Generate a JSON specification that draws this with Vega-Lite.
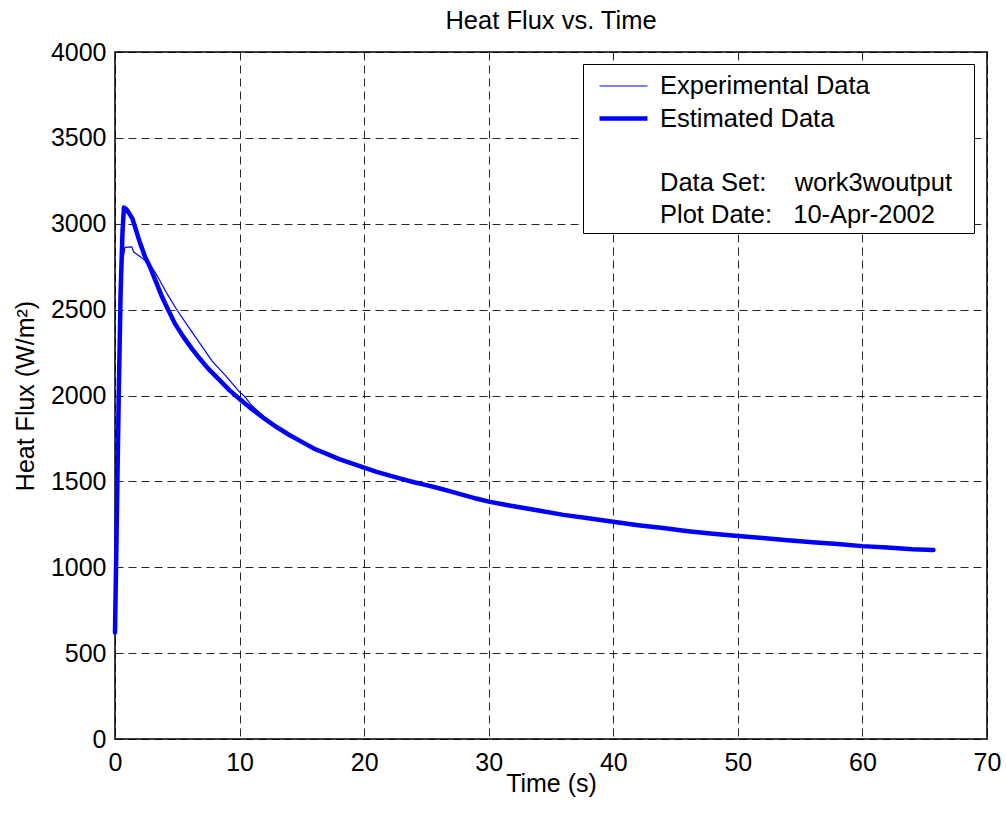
{
  "$schema": "https://vega.github.io/schema/vega-lite/v6.json",
  "width": 872,
  "height": 687,
  "autosize": {"type": "none"},
  "padding": {"left": 115, "top": 52, "right": 19, "bottom": 75},
  "background": "white",
  "config": {
    "font": "Liberation Sans",
    "view": {"stroke": "black", "strokeWidth": 1.5},
    "axis": {
      "labelFont": "Liberation Sans",
      "labelFontSize": 25,
      "labelColor": "black",
      "labelFlush": false,
      "labelOverlap": false,
      "titleFont": "Liberation Sans",
      "titleFontSize": 25,
      "titleFontWeight": "normal",
      "titleColor": "black",
      "domain": false,
      "ticks": false,
      "tickSize": 0,
      "grid": true,
      "gridColor": "black",
      "gridOpacity": 0.85,
      "gridDash": [8, 5],
      "gridWidth": 1
    },
    "legend": {
      "title": ".",
      "titleOrient": "right",
      "titleColor": "transparent",
      "titleFont": "Liberation Sans",
      "titleFontSize": 25,
      "titlePadding": 10,
      "orient": "none",
      "legendX": 468,
      "legendY": 12,
      "padding": 5,
      "fillColor": "white",
      "strokeColor": "black",
      "labelFont": "Liberation Sans",
      "labelFontSize": 25.5,
      "labelColor": "black",
      "labelLimit": 600,
      "symbolType": "M-1.5,0H1.5",
      "symbolSize": 1024,
      "symbolOffset": 17,
      "labelOffset": 18,
      "rowPadding": 0
    }
  },
  "title": {
    "text": "Heat Flux vs. Time",
    "font": "Liberation Sans",
    "fontSize": 25.5,
    "fontWeight": "normal",
    "color": "black",
    "anchor": "middle",
    "frame": "group",
    "baseline": "alphabetic",
    "offset": -14
  },
  "data": {
    "values": [
      {"series": "Experimental Data", "t": 0, "q": 620},
      {"series": "Experimental Data", "t": 0.15, "q": 1250},
      {"series": "Experimental Data", "t": 0.3, "q": 1950},
      {"series": "Experimental Data", "t": 0.45, "q": 2500},
      {"series": "Experimental Data", "t": 0.6, "q": 2780},
      {"series": "Experimental Data", "t": 0.8, "q": 2862},
      {"series": "Experimental Data", "t": 1.35, "q": 2865},
      {"series": "Experimental Data", "t": 1.5, "q": 2835},
      {"series": "Experimental Data", "t": 2.0, "q": 2810},
      {"series": "Experimental Data", "t": 2.5, "q": 2780},
      {"series": "Experimental Data", "t": 2.8, "q": 2760},
      {"series": "Experimental Data", "t": 3.2, "q": 2720},
      {"series": "Experimental Data", "t": 3.6, "q": 2670},
      {"series": "Experimental Data", "t": 4.2, "q": 2590},
      {"series": "Experimental Data", "t": 5.0, "q": 2495},
      {"series": "Experimental Data", "t": 5.8, "q": 2410},
      {"series": "Experimental Data", "t": 6.8, "q": 2305},
      {"series": "Experimental Data", "t": 7.8, "q": 2200},
      {"series": "Experimental Data", "t": 9.0, "q": 2105},
      {"series": "Experimental Data", "t": 10.0, "q": 2020},
      {"series": "Experimental Data", "t": 10.4, "q": 1995},
      {"series": "Experimental Data", "t": 11, "q": 1940},
      {"series": "Experimental Data", "t": 12, "q": 1875},
      {"series": "Experimental Data", "t": 13, "q": 1820},
      {"series": "Experimental Data", "t": 14, "q": 1775},
      {"series": "Experimental Data", "t": 15, "q": 1733},
      {"series": "Experimental Data", "t": 16, "q": 1695},
      {"series": "Experimental Data", "t": 17, "q": 1662},
      {"series": "Experimental Data", "t": 18, "q": 1628},
      {"series": "Experimental Data", "t": 19, "q": 1602},
      {"series": "Experimental Data", "t": 20, "q": 1582},
      {"series": "Experimental Data", "t": 22, "q": 1533},
      {"series": "Experimental Data", "t": 24, "q": 1497},
      {"series": "Experimental Data", "t": 26, "q": 1458},
      {"series": "Experimental Data", "t": 28, "q": 1421},
      {"series": "Experimental Data", "t": 30, "q": 1378},
      {"series": "Experimental Data", "t": 32, "q": 1352},
      {"series": "Experimental Data", "t": 34, "q": 1328},
      {"series": "Experimental Data", "t": 36, "q": 1302},
      {"series": "Experimental Data", "t": 38, "q": 1287},
      {"series": "Experimental Data", "t": 40, "q": 1262},
      {"series": "Experimental Data", "t": 42, "q": 1243},
      {"series": "Experimental Data", "t": 44, "q": 1227},
      {"series": "Experimental Data", "t": 46, "q": 1210},
      {"series": "Experimental Data", "t": 48, "q": 1196},
      {"series": "Experimental Data", "t": 50, "q": 1180},
      {"series": "Experimental Data", "t": 52, "q": 1169},
      {"series": "Experimental Data", "t": 54, "q": 1157},
      {"series": "Experimental Data", "t": 56, "q": 1146},
      {"series": "Experimental Data", "t": 58, "q": 1134},
      {"series": "Experimental Data", "t": 60, "q": 1122},
      {"series": "Experimental Data", "t": 62, "q": 1114},
      {"series": "Experimental Data", "t": 64, "q": 1106},
      {"series": "Experimental Data", "t": 65.7, "q": 1100},
      {"series": "Estimated Data", "t": 0, "q": 620},
      {"series": "Estimated Data", "t": 0.15, "q": 1300},
      {"series": "Estimated Data", "t": 0.3, "q": 2000},
      {"series": "Estimated Data", "t": 0.45, "q": 2600},
      {"series": "Estimated Data", "t": 0.6, "q": 2950},
      {"series": "Estimated Data", "t": 0.72, "q": 3095},
      {"series": "Estimated Data", "t": 0.9, "q": 3085},
      {"series": "Estimated Data", "t": 1.1, "q": 3065},
      {"series": "Estimated Data", "t": 1.4, "q": 3030},
      {"series": "Estimated Data", "t": 1.7, "q": 2960},
      {"series": "Estimated Data", "t": 2.0, "q": 2890},
      {"series": "Estimated Data", "t": 2.4, "q": 2810},
      {"series": "Estimated Data", "t": 2.8, "q": 2750},
      {"series": "Estimated Data", "t": 3.3, "q": 2660},
      {"series": "Estimated Data", "t": 3.8, "q": 2570},
      {"series": "Estimated Data", "t": 4.2, "q": 2510},
      {"series": "Estimated Data", "t": 4.8, "q": 2420},
      {"series": "Estimated Data", "t": 5.5, "q": 2340},
      {"series": "Estimated Data", "t": 6.2, "q": 2270},
      {"series": "Estimated Data", "t": 6.8, "q": 2215},
      {"series": "Estimated Data", "t": 7.5, "q": 2155},
      {"series": "Estimated Data", "t": 8.4, "q": 2090},
      {"series": "Estimated Data", "t": 9.2, "q": 2030},
      {"series": "Estimated Data", "t": 10, "q": 1980},
      {"series": "Estimated Data", "t": 11, "q": 1920},
      {"series": "Estimated Data", "t": 12, "q": 1865},
      {"series": "Estimated Data", "t": 13, "q": 1815},
      {"series": "Estimated Data", "t": 14, "q": 1770},
      {"series": "Estimated Data", "t": 15, "q": 1730},
      {"series": "Estimated Data", "t": 16, "q": 1690},
      {"series": "Estimated Data", "t": 17, "q": 1660},
      {"series": "Estimated Data", "t": 18, "q": 1630},
      {"series": "Estimated Data", "t": 19, "q": 1605},
      {"series": "Estimated Data", "t": 20, "q": 1580},
      {"series": "Estimated Data", "t": 21, "q": 1555},
      {"series": "Estimated Data", "t": 22, "q": 1535},
      {"series": "Estimated Data", "t": 23, "q": 1515},
      {"series": "Estimated Data", "t": 24, "q": 1495},
      {"series": "Estimated Data", "t": 25, "q": 1478},
      {"series": "Estimated Data", "t": 26, "q": 1460},
      {"series": "Estimated Data", "t": 27, "q": 1440},
      {"series": "Estimated Data", "t": 28, "q": 1420},
      {"series": "Estimated Data", "t": 29, "q": 1400},
      {"series": "Estimated Data", "t": 30, "q": 1382},
      {"series": "Estimated Data", "t": 32, "q": 1355},
      {"series": "Estimated Data", "t": 34, "q": 1330},
      {"series": "Estimated Data", "t": 36, "q": 1305},
      {"series": "Estimated Data", "t": 38, "q": 1285},
      {"series": "Estimated Data", "t": 40, "q": 1265},
      {"series": "Estimated Data", "t": 42, "q": 1245},
      {"series": "Estimated Data", "t": 44, "q": 1228},
      {"series": "Estimated Data", "t": 46, "q": 1210},
      {"series": "Estimated Data", "t": 48, "q": 1195},
      {"series": "Estimated Data", "t": 50, "q": 1182},
      {"series": "Estimated Data", "t": 52, "q": 1170},
      {"series": "Estimated Data", "t": 54, "q": 1157},
      {"series": "Estimated Data", "t": 56, "q": 1145},
      {"series": "Estimated Data", "t": 58, "q": 1135},
      {"series": "Estimated Data", "t": 60, "q": 1123},
      {"series": "Estimated Data", "t": 62, "q": 1115},
      {"series": "Estimated Data", "t": 64, "q": 1105},
      {"series": "Estimated Data", "t": 65.7, "q": 1100}
    ]
  },
  "mark": {"type": "line", "strokeCap": "round", "strokeJoin": "round"},
  "encoding": {
    "x": {
      "field": "t",
      "type": "quantitative",
      "scale": {"domain": [0, 70], "nice": false},
      "axis": {
        "title": "Time (s)",
        "values": [0, 10, 20, 30, 40, 50, 60, 70],
        "format": "d",
        "labelPadding": 11,
        "titleY": 52,
        "titleBaseline": "alphabetic"
      }
    },
    "y": {
      "field": "q",
      "type": "quantitative",
      "scale": {"domain": [0, 4000], "nice": false},
      "axis": {
        "title": "Heat Flux (W/m²)",
        "values": [0, 500, 1000, 1500, 2000, 2500, 3000, 3500, 4000],
        "format": "d",
        "labelPadding": 9,
        "titleX": -82,
        "titleY": 343.5,
        "titleBaseline": "alphabetic",
        "titleAngle": -90
      }
    },
    "detail": {"field": "series"},
    "order": {"field": "t", "type": "quantitative"},
    "color": {
      "field": "series",
      "type": "nominal",
      "scale": {
        "domain": ["Experimental Data", "Estimated Data", " ", "Data Set:\u00a0\u00a0\u00a0\u00a0work3woutput", "Plot Date:\u00a0\u00a0\u00a010-Apr-2002"],
        "range": ["#0000ff", "#0000ff", "transparent", "transparent", "transparent"]
      },
      "legend": {"title": "."}
    },
    "strokeWidth": {
      "field": "series",
      "type": "nominal",
      "scale": {
        "type": "ordinal",
        "domain": ["Experimental Data", "Estimated Data", " ", "Data Set:\u00a0\u00a0\u00a0\u00a0work3woutput", "Plot Date:\u00a0\u00a0\u00a010-Apr-2002"],
        "range": [1.2, 4.5, 4.5, 4.5, 4.5]
      },
      "legend": {"title": "."}
    }
  }
}
